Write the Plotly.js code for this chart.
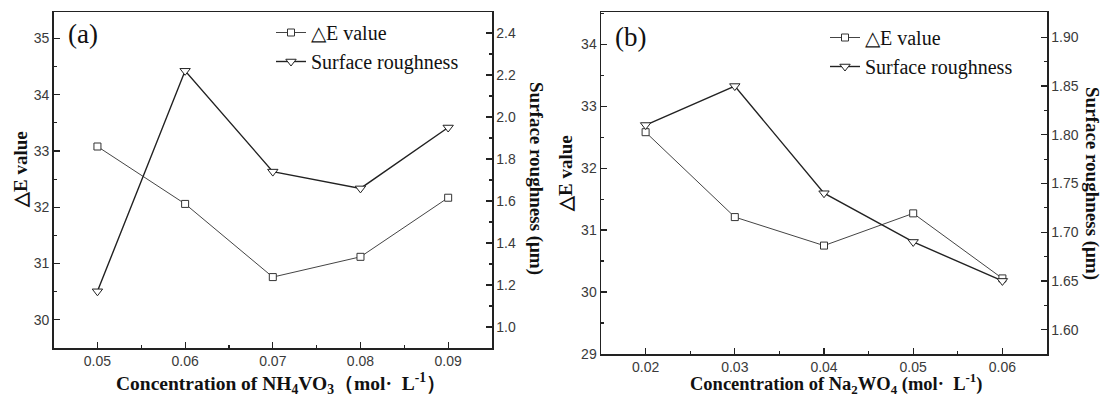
<!DOCTYPE html>
<html>
<head>
<meta charset="utf-8">
<script src="https://cdn.plot.ly/plotly-3.0.1.min.js"></script>
<style>html,body{margin:0;padding:0;background:#fff;} #chart{width:1102px;height:397px;}</style>
</head>
<body>
<div id="chart"></div>
<script>
// Panel (a): NH4VO3 concentration
const xA = [0.05, 0.06, 0.07, 0.08, 0.09];
const dEA = [33.08, 32.06, 30.76, 31.12, 32.17];
const roughA = [1.17, 2.22, 1.74, 1.66, 1.95];
// Panel (b): Na2WO4 concentration
const xB = [0.02, 0.03, 0.04, 0.05, 0.06];
const dEB = [32.58, 31.21, 30.75, 31.27, 30.22];
const roughB = [1.81, 1.85, 1.74, 1.69, 1.65];

const seriesNames = ['\u25B3E value', 'Surface roughness'];

const W = 1102, H = 397;
const px = v => v / W;
const py = v => 1 - v / H;

const serif = 'Liberation Serif, Times New Roman, serif';
const sans = 'Liberation Sans, Arial, sans-serif';

const sqMarker = {symbol: 'square', size: 7, color: 'white', line: {color: '#333', width: 1}};
const triMarker = {symbol: 'triangle-down', size: 9, color: 'white', line: {color: '#222', width: 1}};

const traces = [
  {x: xA, y: dEA, xaxis: 'x', yaxis: 'y', name: seriesNames[0], mode: 'lines+markers',
   line: {color: '#444', width: 1}, marker: sqMarker, legend: 'legend'},
  {x: xA, y: roughA, xaxis: 'x', yaxis: 'y2', name: seriesNames[1], mode: 'lines+markers',
   line: {color: '#222', width: 1.4}, marker: triMarker, legend: 'legend'},
  {x: xB, y: dEB, xaxis: 'x2', yaxis: 'y3', name: seriesNames[0], mode: 'lines+markers',
   line: {color: '#444', width: 1}, marker: sqMarker, legend: 'legend2'},
  {x: xB, y: roughB, xaxis: 'x2', yaxis: 'y4', name: seriesNames[1], mode: 'lines+markers',
   line: {color: '#222', width: 1.4}, marker: triMarker, legend: 'legend2'}
];

function axisBase(extra) {
  return Object.assign({
    showgrid: false, zeroline: false, showline: true, linecolor: '#222', linewidth: 1.5,
    ticks: 'inside', ticklen: 6, tickwidth: 1.2, tickcolor: '#222',
    tickfont: {family: sans, size: 14, color: '#3a3a3a'},
    fixedrange: true
  }, extra);
}

const legendBase = {
  bgcolor: 'rgba(0,0,0,0)', borderwidth: 0,
  font: {family: serif, size: 20, color: '#111'},
  xanchor: 'left', yanchor: 'top', tracegroupgap: 0, itemwidth: 30
};

function ann(text, x, y, size, bold, angle) {
  return {text: text, x: px(x), y: py(y), xref: 'paper', yref: 'paper', showarrow: false,
    xanchor: 'center', yanchor: 'middle', textangle: angle || 0,
    font: {family: serif, size: size, color: '#111', weight: bold ? 700 : 400}};
}

const layout = {
  width: W, height: H,
  margin: {l: 0, r: 0, t: 0, b: 0},
  paper_bgcolor: '#fff', plot_bgcolor: '#fff',
  showlegend: true,
  xaxis: axisBase({domain: [px(53.6), px(492)], range: [0.045, 0.095], anchor: 'y',
    dtick: 0.01, tick0: 0, mirror: true,
    minor: {ticks: 'inside', ticklen: 3, dtick: 0.005, tickcolor: '#222', tickwidth: 1.2}}),
  yaxis: axisBase({domain: [1 - 348 / H, 1 - 12 / H], range: [29.5, 35.47], anchor: 'x',
    dtick: 1, minor: {ticks: 'inside', ticklen: 3, dtick: 0.5, tickcolor: '#222', tickwidth: 1.2}}),
  yaxis2: axisBase({overlaying: 'y', side: 'right', anchor: 'x', range: [0.9, 2.5],
    dtick: 0.2, tick0: 0, tickformat: '.1f',
    minor: {ticks: 'inside', ticklen: 3, dtick: 0.1, tickcolor: '#222', tickwidth: 1.2}}),
  xaxis2: axisBase({domain: [px(601), px(1047)], range: [0.015, 0.065], anchor: 'y3',
    dtick: 0.01, tick0: 0, mirror: true,
    minor: {ticks: 'inside', ticklen: 3, dtick: 0.005, tickcolor: '#222', tickwidth: 1.2}}),
  yaxis3: axisBase({domain: [1 - 354 / H, 1 - 12 / H], range: [29, 34.52], anchor: 'x2',
    dtick: 1, minor: {ticks: 'inside', ticklen: 3, dtick: 0.5, tickcolor: '#222', tickwidth: 1.2}}),
  yaxis4: axisBase({overlaying: 'y3', side: 'right', anchor: 'x2', range: [1.575, 1.926],
    dtick: 0.05, tick0: 0, tickformat: '.2f',
    minor: {ticks: 'inside', ticklen: 3, dtick: 0.025, tickcolor: '#222', tickwidth: 1.2}}),
  legend: Object.assign({}, legendBase, {x: px(271), y: py(13)}),
  legend2: Object.assign({}, legendBase, {x: px(825), y: py(18)}),
  annotations: [
    ann('(a)', 83, 34, 27, false),
    ann('(b)', 630, 37, 27, false),
    ann('Concentration of NH<sub>4</sub>VO<sub>3</sub>\uFF08mol\u00B7  L<sup>-1</sup>\uFF09', 281, 383, 19.5, true),
    ann('Concentration of Na<sub>2</sub>WO<sub>4</sub> (mol\u00B7  L<sup>-1</sup>)', 836, 383, 18.5, true),
    ann('\u25B3E value', 20, 170, 19, true, -90),
    ann('\u25B3E value', 566, 174, 19, true, -90),
    ann('Surface roughness (\u03BCm)', 536, 178, 19, true, 90),
    ann('Surface roughness (\u03BCm)', 1092, 183, 19, true, 90)
  ]
};

Plotly.newPlot('chart', traces, layout, {staticPlot: true, displayModeBar: false});
</script>
</body>
</html>
